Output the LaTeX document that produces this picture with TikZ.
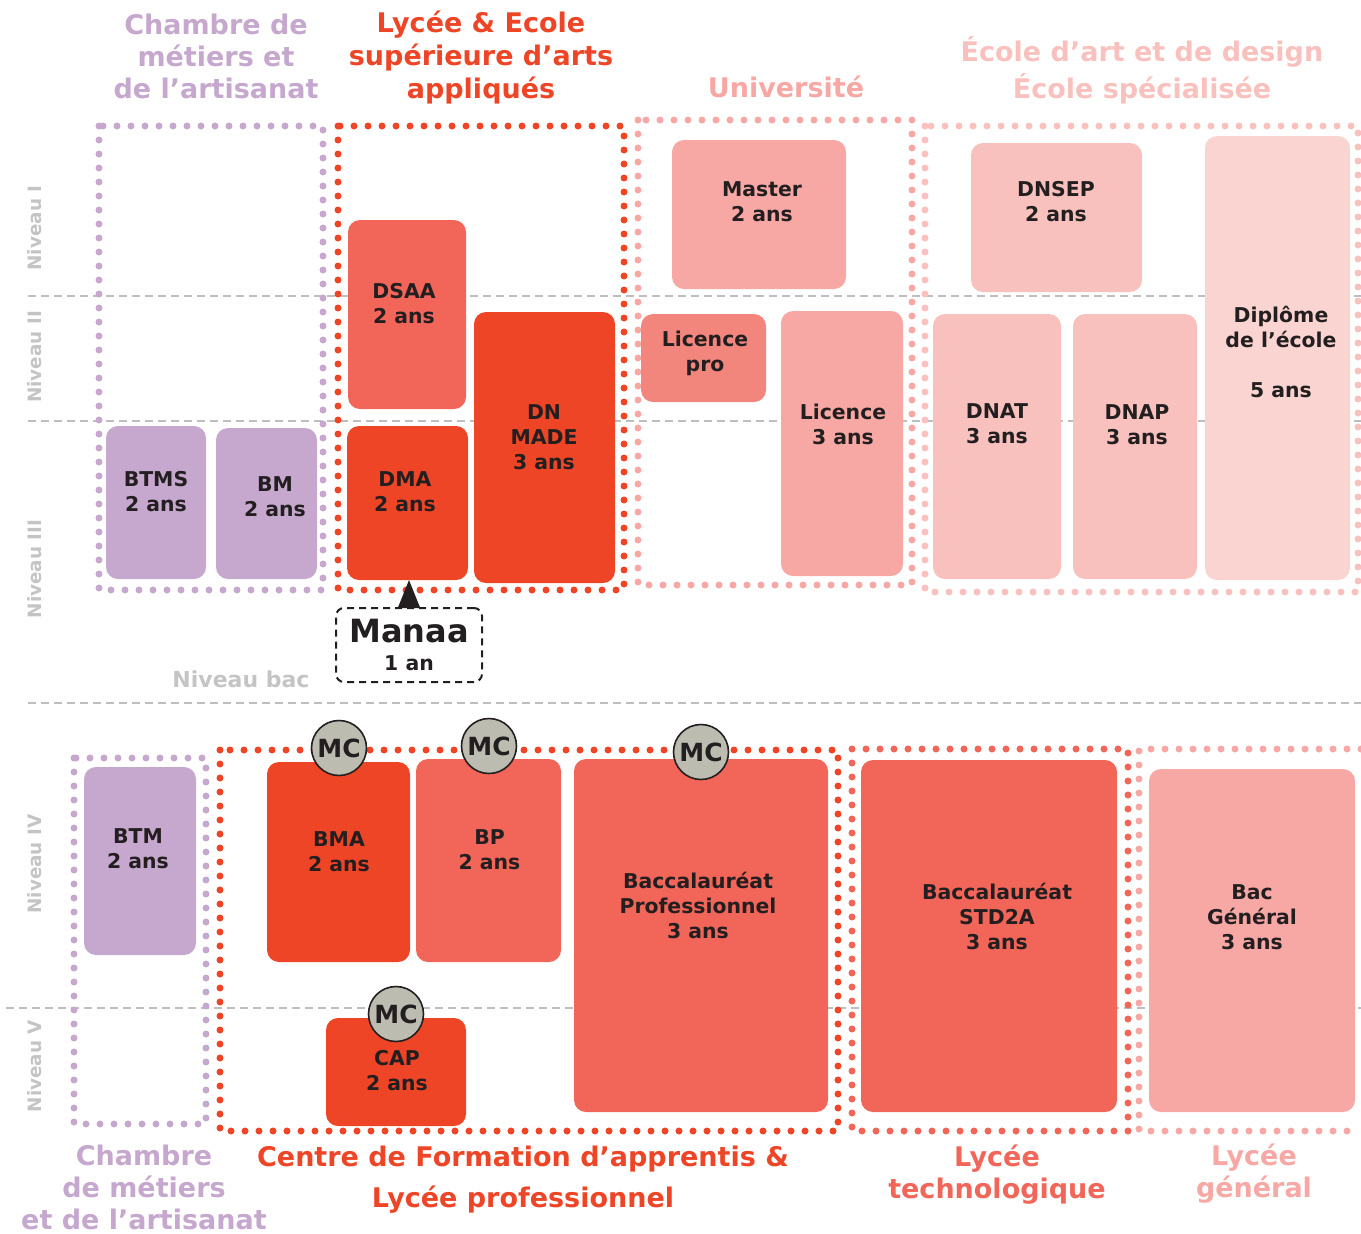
\documentclass[tikz,border=0pt]{standalone}
\usepackage{fontspec}
\setmainfont{DejaVu Sans}
\usetikzlibrary{arrows.meta}
\usetikzlibrary{positioning}

\definecolor{mauve}{HTML}{C6A7CE}
\definecolor{rouge}{HTML}{EE4527}
\definecolor{saumon}{HTML}{F26559}
\definecolor{corail}{HTML}{F2857C}
\definecolor{rose}{HTML}{F7A8A4}
\definecolor{roseclair}{HTML}{F8C1BD}
\definecolor{rosepale}{HTML}{FAD4D0}
\definecolor{grisMC}{HTML}{BDBCB0}
\definecolor{grisligne}{HTML}{BEBEBE}
\definecolor{grisniv}{HTML}{C4C4C4}
\definecolor{encre}{HTML}{231F20}

\begin{document}
\begin{tikzpicture}[x=0.5pt, y=-0.5pt,
      diplome/.style={rectangle, rounded corners=6pt, inner sep=0pt, outer sep=0pt},
      libelle/.style={align=center, text=encre, font=\bfseries\fontsize{10.2}{12.5}\selectfont},
      titre/.style={align=center, inner sep=1pt, font=\bfseries\fontsize{13.5}{16}\selectfont},
      niveau/.style={text=grisniv, rotate=90, font=\bfseries\fontsize{9.2}{11}\selectfont},
      cadre/.style={line width=3.5pt, dash pattern=on 0pt off 7pt, line cap=round},
      seuil/.style={draw=grisligne, line width=1pt, dash pattern=on 4pt off 2.5pt},
      mc/.style={circle, draw=encre, fill=grisMC, line width=0.8pt, minimum size=27.5pt, inner sep=0pt, text=encre, font=\bfseries\fontsize{12.5}{12.5}\selectfont},
      arrow/.style={-{Triangle[length=14pt, width=11pt]}, line width=1pt, encre}
      ]
      \useasboundingbox (0,0) rectangle (1361,1233);

      % Levels
      \draw[seuil] (28,296) -- (1361,296);
      \draw[seuil] (28,421) -- (1361,421);
      \draw[seuil] (28,703) -- (1361,703);
      \draw[seuil] (6,1008) -- (1361,1008);

      \node[niveau] (nivI) at (35,228) {Niveau I};
      \node[niveau] (nivII) at (35,357) {Niveau II};
      \node[niveau] (nivIII) at (35,569) {Niveau III};
      \node[niveau] (nivIV) at (35,864) {Niveau IV};
      \node[niveau] (nivV) at (35,1066) {Niveau V};
      \node[text=grisniv, font=\bfseries\fontsize{11}{13}\selectfont] (bac) at (241,679) {Niveau bac};

      % Frames
      \draw[cadre, draw=mauve] (99,126) rectangle (323,590);
      \draw[cadre, draw=rouge] (338,126) rectangle (624,590);
      \draw[cadre, draw=rose] (638,120) rectangle (912,585);
      \draw[cadre, draw=roseclair] (925,126) rectangle (1358,592);
      \draw[cadre, draw=mauve] (74,758) rectangle (206,1124);
      \draw[cadre, draw=rouge] (220,750) rectangle (838,1131);
      \draw[cadre, draw=saumon] (852,749) rectangle (1128,1131);
      \draw[cadre, draw=rose] (1361,749) -- (1139,749) -- (1139,1131) -- (1361,1131);

      % Titles
      \node[titre, text=mauve] (chambreH) at (216,56) {Chambre de\\métiers et\\de l’artisanat};
      \node[titre, text=rouge, font=\bfseries\fontsize{13.5}{16.5}\selectfont] (lyceeH) at (481,58) {Lycée \& Ecole\\supérieure d’arts\\appliqués};
      \node[titre, text=rose] (univH) at (786,87) {Université};
      \node[titre, text=roseclair, font=\bfseries\fontsize{13.5}{18.5}\selectfont] (ecoleH) at (1142,70.5) {École d’art et de design\\École spécialisée};
      \node[titre, text=mauve] (chambreB) at (144,1187) {Chambre\\de métiers\\et de l’artisanat};
      \node[titre, text=rouge, font=\bfseries\fontsize{13.5}{20.5}\selectfont] (cfaB) at (523,1179.5) {Centre de Formation d’apprentis \&\\Lycée professionnel};
      \node[titre, text=saumon] (techB) at (997,1175) {Lycée\\technologique};
      \node[titre, text=rose] (genB) at (1254,1173.5) {Lycée\\général};

      % Higher education
      \node[diplome, fill=mauve, minimum width=50pt, minimum height=76.5pt] (btms) at (156,502.5) {};
      \node[diplome, fill=mauve, minimum width=50.5pt, minimum height=75.5pt] (bm) at (266.5,503.5) {};
      \node[diplome, fill=saumon, minimum width=59pt, minimum height=94.5pt] (dsaa) at (407,314.5) {};
      \node[diplome, fill=rouge, minimum width=70.5pt, minimum height=135.5pt] (dnmade) at (544.5,447.5) {};
      \node[diplome, fill=rouge, minimum width=60.5pt, minimum height=77pt] (dma) at (407.5,503) {};
      \node[diplome, fill=rose, minimum width=87pt, minimum height=74.5pt] (master) at (759,214.5) {};
      \node[diplome, fill=corail, minimum width=62.5pt, minimum height=44pt] (licpro) at (703.5,358) {};
      \node[diplome, fill=rose, minimum width=61pt, minimum height=132.5pt] (licence) at (842,443.5) {};
      \node[diplome, fill=roseclair, minimum width=85.5pt, minimum height=74.5pt] (dnsep) at (1056.5,217.5) {};
      \node[diplome, fill=roseclair, minimum width=64pt, minimum height=132.5pt] (dnat) at (997,446.5) {};
      \node[diplome, fill=roseclair, minimum width=62pt, minimum height=132.5pt] (dnap) at (1135,446.5) {};
      \node[diplome, fill=rosepale, minimum width=72.5pt, minimum height=222pt] (ecole) at (1277.5,358) {};

      \node[libelle] (btmsT) at (156,492) {BTMS\\2 ans};
      \node[libelle] (bmT) at (275,496.5) {BM\\2 ans};
      \node[libelle] (dsaaT) at (404,304) {DSAA\\2 ans};
      \node[libelle] (dnmadeT) at (544,437.5) {DN\\MADE\\3 ans};
      \node[libelle] (dmaT) at (405,492) {DMA\\2 ans};
      \node[libelle] (masterT) at (762,202) {Master\\2 ans};
      \node[libelle] (licproT) at (705,353) {Licence\\pro};
      \node[libelle] (licenceT) at (843,424) {Licence\\3 ans};
      \node[libelle] (dnsepT) at (1056,202) {DNSEP\\2 ans};
      \node[libelle] (dnatT) at (997,424) {DNAT\\3 ans};
      \node[libelle] (dnapT) at (1137,425) {DNAP\\3 ans};
      \node[libelle] (ecoleT) at (1281,351.5) {Diplôme\\de l’école\\[12.5pt]5 ans};

      \node[draw=encre, line width=1pt, dash pattern=on 3.5pt off 2.5pt, rounded corners=4pt,
            minimum width=73pt, minimum height=37pt, align=center, text=encre] (manaa) at (409,645)
            {{\bfseries\fontsize{16}{16}\selectfont Manaa}\\[2pt]{\bfseries\fontsize{10.2}{12}\selectfont 1 an}};
      \draw[arrow] (manaa.north) -- (manaa.north |- dma.south);

      % Secondary education
      \node[diplome, fill=mauve, minimum width=56pt, minimum height=94pt] (btm) at (140,861) {};
      \node[diplome, fill=rouge, minimum width=71.5pt, minimum height=100pt] (bma) at (338.5,862) {};
      \node[diplome, fill=saumon, minimum width=72.5pt, minimum height=101.5pt] (bp) at (488.5,860.5) {};
      \node[diplome, fill=saumon, minimum width=127pt, minimum height=176.5pt] (bacpro) at (701,935.5) {};
      \node[diplome, fill=rouge, minimum width=70pt, minimum height=54pt] (cap) at (396,1072) {};
      \node[diplome, fill=saumon, minimum width=128pt, minimum height=176pt] (std2a) at (989,936) {};
      \node[diplome, fill=rose, minimum width=103pt, minimum height=171.5pt] (bacgen) at (1252,940.5) {};

      \node[libelle] (btmT) at (138,848.5) {BTM\\2 ans};
      \node[libelle] (bmaT) at (339,852) {BMA\\2 ans};
      \node[libelle] (bpT) at (489.5,850) {BP\\2 ans};
      \node[libelle] (bacproT) at (698,905.5) {Baccalauréat\\Professionnel\\3 ans};
      \node[libelle] (capT) at (397,1071) {CAP\\2 ans};
      \node[libelle] (std2aT) at (997,916) {Baccalauréat\\STD2A\\3 ans};
      \node[libelle] (bacgenT) at (1252,917) {Bac\\Général\\3 ans};

      % Complementary mentions
      \node[mc] (mcBMA) at (339,748) {MC};
      \node[mc] (mcBP) at (489,746) {MC};
      \node[mc] (mcBac) at (701,752) {MC};
      \node[mc] (mcCAP) at (396,1014) {MC};

    \end{tikzpicture}
\end{document}
